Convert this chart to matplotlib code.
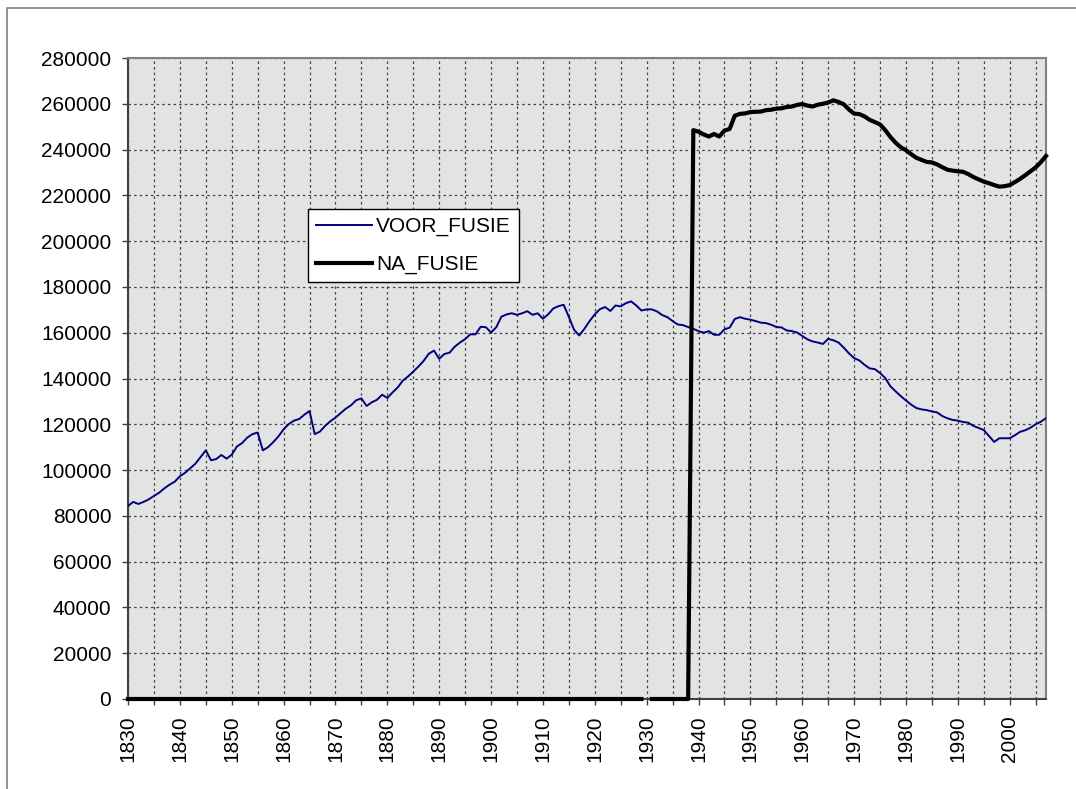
import numpy as np
import matplotlib
matplotlib.use("Agg")
import matplotlib.pyplot as plt
from matplotlib.lines import Line2D

plt.rcParams["font.family"] = ["Liberation Sans", "DejaVu Sans"]

# yearly population, 1830-2007
years = list(range(1830, 2008))

voor_fusie = [
    84300, 86100, 85200, 86100, 87200, 88700, 90100, 92000, 93600, 94900,      # 1830s
    97300, 98800, 100800, 102800, 105700, 108600, 104300, 104800, 106600, 105000,  # 1840s
    106700, 110300, 111800, 114200, 115700, 116400, 108600, 110000, 112200, 114700,  # 1850s
    117800, 120100, 121600, 122300, 124200, 125800, 115700, 116800, 119300, 121300,  # 1860s
    122900, 124900, 126800, 128300, 130500, 131300, 128000, 129600, 130700, 132900,  # 1870s
    131500, 133900, 136100, 139100, 140900, 143000, 145200, 147700, 150800, 152200,  # 1880s
    148600, 150700, 151300, 153900, 155700, 157200, 159300, 159300, 162600, 162400,  # 1890s
    160100, 162400, 167000, 168000, 168500, 167800, 168500, 169400, 167800, 168500,  # 1900s
    166100, 168000, 170600, 171600, 172200, 166900, 161300, 158800, 161700, 165100,  # 1910s
    168000, 170300, 171200, 169500, 171900, 171500, 172900, 173700, 171900, 169700,  # 1920s
    170200, 170200, 169300, 167700, 166800, 165100, 163600, 163300, 162500, 161700,  # 1930s
    160700, 160000, 160700, 159100, 159100, 161500, 162200, 166000, 166800, 166100,  # 1940s
    165700, 165100, 164400, 164200, 163500, 162500, 162300, 161000, 160700, 160100,  # 1950s
    158600, 157100, 156200, 155700, 155100, 157300, 156700, 155700, 153500, 151000,  # 1960s
    148900, 147900, 146000, 144400, 144100, 142400, 140200, 136600, 134400, 132300,  # 1970s
    130400, 128600, 127100, 126500, 126200, 125600, 125200, 123600, 122600, 121900,  # 1980s
    121600, 121000, 120700, 119300, 118400, 117500, 114900, 112300, 113900, 113900,  # 1990s
    113900, 115200, 116700, 117400, 118500, 120000, 121100, 122700,                  # 2000s
]

# after the merger: zero before 1939, 1930 missing
na_fusie_before = [0] * 100 + [np.nan] + [0] * 8          # 1830-1938
na_fusie_after = [
    248500, 247800, 246600, 245700, 246800, 245700, 248300, 249000, 254800, 255600,  # 1939-1948
    255800, 256400, 256500, 256600, 257200, 257400, 257900, 258000, 258600, 258800,  # 1949-1958
    259500, 259900, 259200, 258800, 259600, 260000, 260600, 261500, 260800, 259800,  # 1959-1968
    257500, 255700, 255500, 254500, 253000, 252000, 251000, 248500, 245500, 243000,  # 1969-1978
    241000, 239700, 238000, 236400, 235500, 234600, 234400, 233500, 232300, 231200,  # 1979-1988
    230800, 230500, 230300, 229300, 228000, 227000, 226000, 225300, 224500, 223800,  # 1989-1998
    224000, 224500, 225800, 227200, 228800, 230500, 232200, 234500, 237200,          # 1999-2007
]
na_fusie = na_fusie_before + na_fusie_after

y_ticks = list(range(0, 280001, 20000))
x_ticks = list(range(1830, 2006, 5))
x_labels = [str(y) if y % 10 == 0 else "" for y in x_ticks]

fig = plt.figure(figsize=(10.76, 7.89), dpi=100)
ax = fig.add_axes([128 / 1076, 1 - 699 / 789, 918 / 1076, 641 / 789])
ax.set_facecolor("#e3e3e3")

ax.plot(years, voor_fusie, color="#000080", lw=1.4, label="VOOR_FUSIE",
        solid_joinstyle="round", zorder=3)
ax.plot(years, na_fusie, color="black", lw=3.0, label="NA_FUSIE",
        solid_joinstyle="round", clip_on=False, zorder=4)

ax.set_xlim(1830, 2007)
ax.set_ylim(0, 280000)
ax.set_yticks(y_ticks)
ax.set_yticklabels([str(v) for v in y_ticks])
ax.set_xticks(x_ticks)
ax.set_xticklabels(x_labels, rotation=90)
ax.tick_params(axis="both", labelsize=15, direction="out", length=4,
               width=1, color="#404040", pad=8)

ax.grid(True, color="#404040", linestyle=(0, (2, 2.5)), linewidth=0.9)
ax.set_axisbelow(True)
for side in ("top", "right"):
    ax.spines[side].set_color("#808080")
    ax.spines[side].set_linewidth(1.5)
for side in ("left", "bottom"):
    ax.spines[side].set_color("#404040")
    ax.spines[side].set_linewidth(1.5)

leg = ax.legend(loc="upper left", bbox_to_anchor=(0.196, 0.7644), fontsize=15,
                frameon=True, fancybox=False, framealpha=1, edgecolor="black",
                handlelength=2.7, handletextpad=0.2, borderpad=0.38,
                labelspacing=0.9, borderaxespad=0)
leg.get_frame().set_linewidth(1.0)

# outer chart border (left and top edges visible)
fig.add_artist(Line2D([7 / 1076, 7 / 1076, 1.0], [0.0, 1 - 8 / 789, 1 - 8 / 789],
                      transform=fig.transFigure, color="#808080", lw=1.2))

fig.savefig("out.png", dpi=100)
